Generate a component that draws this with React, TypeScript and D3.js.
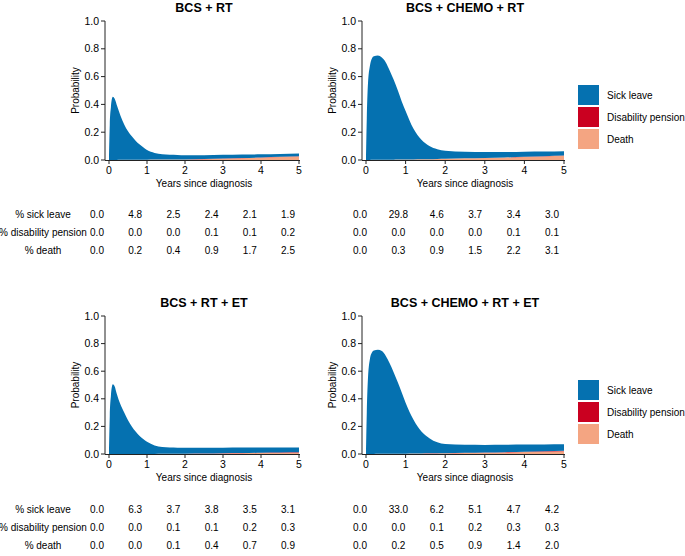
import * as d3 from "d3";

const FONT = "'Liberation Sans', Arial, Helvetica, sans-serif";

// time grid (years since diagnosis) shared by every curve
const years = [0, 0.02, 0.05, 0.1, 0.15, 0.2, 0.3, 0.4, 0.5, 0.6, 0.7, 0.8, 0.9, 1.0, 1.2, 1.4, 1.6, 1.8, 2.0, 2.5, 3.0, 3.5, 4.0, 4.5, 5.0];

// BCS + RT
const rtSick = [0, 0.25, 0.38, 0.455, 0.44, 0.4, 0.32, 0.255, 0.205, 0.168, 0.137, 0.111, 0.089, 0.07, 0.048, 0.038, 0.034, 0.032, 0.03, 0.028, 0.027, 0.025, 0.023, 0.021, 0.019];
const rtDisab = [0, 0, 0, 0, 0, 0, 0, 0, 0, 0, 0, 0, 0, 0, 0, 0, 0, 0, 0, 0.0005, 0.001, 0.001, 0.001, 0.0015, 0.002];
const rtDeath = [0, 0, 0, 0, 0, 0, 0.001, 0.001, 0.001, 0.002, 0.002, 0.002, 0.002, 0.002, 0.003, 0.003, 0.003, 0.004, 0.004, 0.006, 0.009, 0.013, 0.017, 0.021, 0.025];

// BCS + CHEMO + RT
const chSick = [0, 0.3, 0.55, 0.68, 0.73, 0.745, 0.75, 0.735, 0.7, 0.64, 0.575, 0.5, 0.42, 0.35, 0.22, 0.14, 0.095, 0.07, 0.058, 0.048, 0.043, 0.04, 0.037, 0.034, 0.031];
const chDisab = [0, 0, 0, 0, 0, 0, 0, 0, 0, 0, 0, 0, 0, 0, 0, 0, 0, 0, 0, 0, 0, 0, 0.001, 0.001, 0.001];
const chDeath = [0, 0, 0, 0, 0.001, 0.001, 0.001, 0.002, 0.002, 0.002, 0.002, 0.003, 0.003, 0.003, 0.004, 0.005, 0.006, 0.008, 0.009, 0.012, 0.015, 0.018, 0.022, 0.026, 0.031];

// BCS + RT + ET
const etSick = [0, 0.27, 0.42, 0.505, 0.49, 0.44, 0.36, 0.3, 0.245, 0.2, 0.163, 0.133, 0.108, 0.088, 0.062, 0.05, 0.046, 0.044, 0.043, 0.042, 0.041, 0.04, 0.039, 0.037, 0.036];
const etDisab = [0, 0, 0, 0, 0, 0, 0, 0, 0, 0, 0, 0, 0, 0, 0, 0, 0, 0.001, 0.001, 0.001, 0.001, 0.0015, 0.002, 0.0025, 0.003];
const etDeath = [0, 0, 0, 0, 0, 0, 0, 0, 0, 0, 0, 0, 0, 0, 0, 0.001, 0.001, 0.001, 0.001, 0.002, 0.004, 0.005, 0.007, 0.008, 0.009];

// BCS + CHEMO + RT + ET
const ceSick = [0, 0.3, 0.55, 0.69, 0.735, 0.75, 0.755, 0.745, 0.71, 0.655, 0.59, 0.52, 0.445, 0.37, 0.245, 0.16, 0.11, 0.08, 0.066, 0.058, 0.055, 0.053, 0.051, 0.049, 0.047];
const ceDisab = [0, 0, 0, 0, 0, 0, 0, 0, 0, 0, 0, 0, 0, 0, 0, 0.0005, 0.001, 0.001, 0.001, 0.0015, 0.002, 0.0025, 0.003, 0.003, 0.003];
const ceDeath = [0, 0, 0, 0, 0, 0, 0.001, 0.001, 0.001, 0.001, 0.001, 0.002, 0.002, 0.002, 0.003, 0.003, 0.004, 0.004, 0.005, 0.007, 0.009, 0.011, 0.014, 0.017, 0.02];

// tables under each panel (percent at years 0..5)
const rowLabels = ["% sick leave", "% disability pension", "% death"];
const rtTable = [
  ["0.0", "4.8", "2.5", "2.4", "2.1", "1.9"],
  ["0.0", "0.0", "0.0", "0.1", "0.1", "0.2"],
  ["0.0", "0.2", "0.4", "0.9", "1.7", "2.5"],
];
const chTable = [
  ["0.0", "29.8", "4.6", "3.7", "3.4", "3.0"],
  ["0.0", "0.0", "0.0", "0.0", "0.1", "0.1"],
  ["0.0", "0.3", "0.9", "1.5", "2.2", "3.1"],
];
const etTable = [
  ["0.0", "6.3", "3.7", "3.8", "3.5", "3.1"],
  ["0.0", "0.0", "0.1", "0.1", "0.2", "0.3"],
  ["0.0", "0.0", "0.1", "0.4", "0.7", "0.9"],
];
const ceTable = [
  ["0.0", "33.0", "6.2", "5.1", "4.7", "4.2"],
  ["0.0", "0.0", "0.1", "0.2", "0.3", "0.3"],
  ["0.0", "0.2", "0.5", "0.9", "1.4", "2.0"],
];

const states = ["Sick leave", "Disability pension", "Death"];
const color = d3
  .scaleOrdinal<string, string>()
  .domain(states)
  .range(["#0571b0", "#ca0020", "#f4a582"]);

type PanelProps = {
  title: string;
  left: number;
  right: number;
  top: number;
  bottom: number;
  sick: number[];
  disab: number[];
  death: number[];
  legend: boolean;
};

const Panel = ({ title, left, right, top, bottom, sick, disab, death, legend }: PanelProps) => {
  const x = d3.scaleLinear().domain([0, 5]).range([left, right]);
  const y = d3.scaleLinear().domain([0, 1]).range([bottom, top]);
  const axisX = left - 4;

  const rows = years.map((t, i) => ({ t, death: death[i], disab: disab[i], sick: sick[i] }));
  // death stacked at the bottom, sick leave on top
  const stacked = d3.stack<any>().keys(["death", "disab", "sick"])(rows);
  const keyName: Record<string, string> = { death: "Death", disab: "Disability pension", sick: "Sick leave" };

  const area = d3
    .area<any>()
    .x((d) => x(d.data.t))
    .y0((d) => y(d[0]))
    .y1((d) => y(d[1]))
    .curve(d3.curveMonotoneX);

  const midX = (left + right) / 2;

  return (
    <g fontFamily={FONT}>
      <text x={midX} y={top - 9.5} textAnchor="middle" fontSize={12.5} fontWeight="bold">
        {title}
      </text>
      {stacked.map((s) => (
        <path key={s.key} d={area(s) ?? ""} fill={color(keyName[s.key])} />
      ))}

      {/* y axis */}
      <line x1={axisX} x2={axisX} y1={y(0)} y2={y(1)} stroke="#222" />
      {y.ticks(5).map((v) => (
        <g key={v}>
          <line x1={axisX - 4} x2={axisX} y1={y(v)} y2={y(v)} stroke="#222" />
          <text x={axisX - 6} y={y(v)} dy="0.35em" textAnchor="end" fontSize={10.5}>
            {v.toFixed(1)}
          </text>
        </g>
      ))}
      <text
        transform={`translate(${axisX - 26},${(y(0) + y(1)) / 2}) rotate(-90)`}
        textAnchor="middle"
        fontSize={10}
      >
        Probability
      </text>

      {/* x axis */}
      <line x1={axisX} x2={x(5) + 1} y1={y(0) + 0.5} y2={y(0) + 0.5} stroke="#222" />
      {x.ticks(5).map((v) => (
        <g key={v}>
          <line x1={x(v)} x2={x(v)} y1={y(0)} y2={y(0) + 4} stroke="#222" />
          <text x={x(v)} y={y(0) + 14} textAnchor="middle" fontSize={10.5}>
            {v}
          </text>
        </g>
      ))}
      <text x={midX} y={y(0) + 27} textAnchor="middle" fontSize={10}>
        Years since diagnosis
      </text>

      {legend &&
        states.map((s, i) => (
          <g key={s}>
            <rect x={578} y={top + 64 + i * 22} width={21} height={20} fill={color(s)} />
            <text x={607} y={top + 74 + i * 22} dy="0.35em" fontSize={10}>
              {s}
            </text>
          </g>
        ))}
    </g>
  );
};

type TableProps = { rowsY: number; x0: number; x1: number; values: string[][]; labels: boolean };

const Table = ({ rowsY, x0, x1, values, labels }: TableProps) => {
  const col = d3.scaleLinear().domain([0, 5]).range([x0, x1]);
  return (
    <g fontFamily={FONT} fontSize={10}>
      {values.map((row, r) => (
        <g key={r}>
          {labels && (
            <text x={43} y={rowsY + r * 18} dy="0.35em" textAnchor="middle">
              {rowLabels[r]}
            </text>
          )}
          {row.map((v, c) => (
            <text key={c} x={col(c)} y={rowsY + r * 18} dy="0.35em" textAnchor="middle">
              {v}
            </text>
          ))}
        </g>
      ))}
    </g>
  );
};

export default function App() {
  return (
    <svg
      width={685}
      height={556}
      style={{ position: "absolute", left: 0, top: 0, background: "#fff" }}
    >
      <Panel title="BCS + RT" left={109} right={299} top={21} bottom={160} sick={rtSick} disab={rtDisab} death={rtDeath} legend={false} />
      <Panel title="BCS + CHEMO + RT" left={366} right={564} top={21} bottom={160} sick={chSick} disab={chDisab} death={chDeath} legend={true} />
      <Panel title="BCS + RT + ET" left={109} right={299} top={316} bottom={454} sick={etSick} disab={etDisab} death={etDeath} legend={false} />
      <Panel title="BCS + CHEMO + RT + ET" left={366} right={564} top={316} bottom={454} sick={ceSick} disab={ceDisab} death={ceDeath} legend={true} />

      <Table rowsY={214} x0={97} x1={288} values={rtTable} labels={true} />
      <Table rowsY={214} x0={360} x1={552} values={chTable} labels={false} />
      <Table rowsY={509} x0={97} x1={288} values={etTable} labels={true} />
      <Table rowsY={509} x0={360} x1={552} values={ceTable} labels={false} />
    </svg>
  );
}
